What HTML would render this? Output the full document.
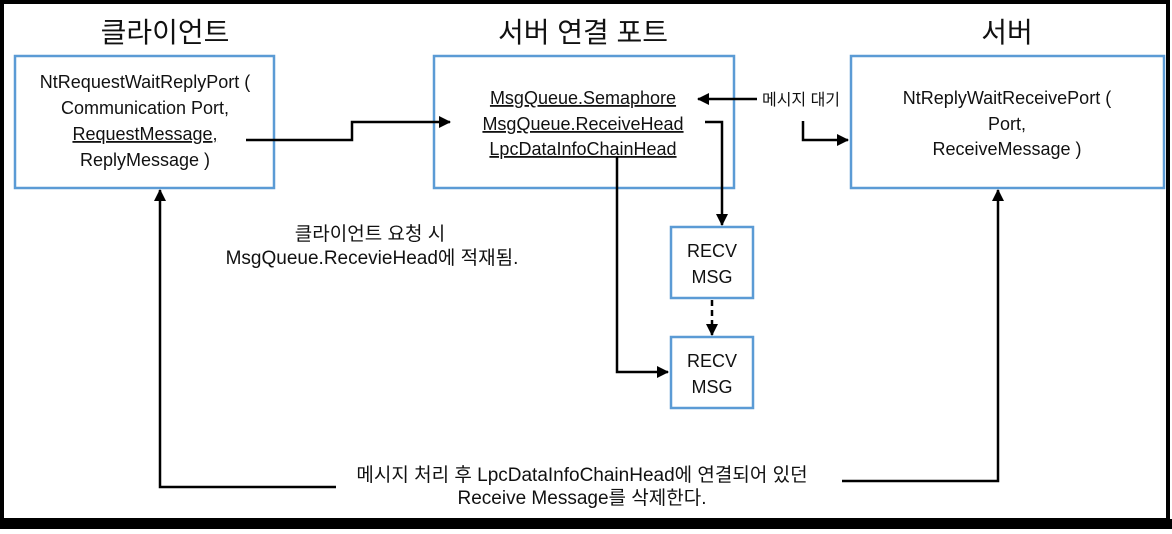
<!DOCTYPE html>
<html><head><meta charset="utf-8"><style>
body{margin:0;background:#fff;}
svg text{font-family:"Liberation Sans","Noto Sans CJK KR",sans-serif;fill:#111;}
</style></head><body>
<svg width="1172" height="529" viewBox="0 0 1172 529" xmlns="http://www.w3.org/2000/svg">
<defs><marker id="b" markerWidth="12" markerHeight="12" refX="11" refY="6" orient="auto" markerUnits="userSpaceOnUse"><path d="M0,0 L12,6 L0,12z" fill="#000"/></marker></defs>
<rect x="0" y="0" width="1172" height="529" fill="#fff"/>
<rect x="2" y="2" width="1166" height="518" fill="none" stroke="#000" stroke-width="4"/>
<rect x="0" y="519" width="1172" height="10" fill="#000"/>
<g font-size="28" text-anchor="middle">
<text x="165" y="42">클라이언트</text>
<text x="583" y="42">서버 연결 포트</text>
<text x="1007" y="42">서버</text>
</g>
<g fill="none" stroke="#5b9bd5" stroke-width="2.5">
<rect x="15" y="56" width="259" height="132"/>
<rect x="434" y="56" width="300" height="132"/>
<rect x="851" y="56" width="313" height="132"/>
<rect x="671" y="227" width="82" height="71"/>
<rect x="671" y="337" width="82" height="71"/>
</g>
<g font-size="18" text-anchor="middle">
<text x="145" y="88">NtRequestWaitReplyPort (</text>
<text x="145" y="114">Communication Port,</text>
<text x="145" y="140" text-decoration="underline">RequestMessage,</text>
<text x="145" y="166">ReplyMessage )</text>
<text x="583" y="104" text-decoration="underline">MsgQueue.Semaphore</text>
<text x="583" y="130" text-decoration="underline">MsgQueue.ReceiveHead</text>
<text x="583" y="155" text-decoration="underline">LpcDataInfoChainHead</text>
<text x="1007" y="104">NtReplyWaitReceivePort (</text>
<text x="1007" y="130">Port,</text>
<text x="1007" y="155">ReceiveMessage )</text>
<text x="712" y="257">RECV</text><text x="712" y="283">MSG</text>
<text x="712" y="367">RECV</text><text x="712" y="393">MSG</text>
</g>
<g text-anchor="middle">
<text x="801" y="105" font-size="16">메시지 대기</text>
<text x="370" y="240" font-size="19">클라이언트 요청 시</text>
<text x="372" y="264" font-size="19">MsgQueue.RecevieHead에 적재됨.</text>
<text x="582" y="481" font-size="19">메시지 처리 후 LpcDataInfoChainHead에 연결되어 있던</text>
<text x="582" y="504" font-size="19">Receive Message를 삭제한다.</text>
</g>
<g fill="none" stroke="#000" stroke-width="2.5">
<polyline points="246,140 352,140 352,122 450,122" marker-end="url(#b)"/>
<polyline points="757,99 698,99" marker-end="url(#b)"/>
<polyline points="803,121 803,140 848,140" marker-end="url(#b)"/>
<polyline points="705,122 722,122 722,225" marker-end="url(#b)"/>
<polyline points="712,300 712,335" stroke-dasharray="6,4" marker-end="url(#b)"/>
<polyline points="617,157 617,372 668,372" marker-end="url(#b)"/>
<polyline points="336,487 160,487 160,190" marker-end="url(#b)" />
<polyline points="842,481 998,481 998,190" marker-end="url(#b)"/>
</g>
</svg>
</body></html>
